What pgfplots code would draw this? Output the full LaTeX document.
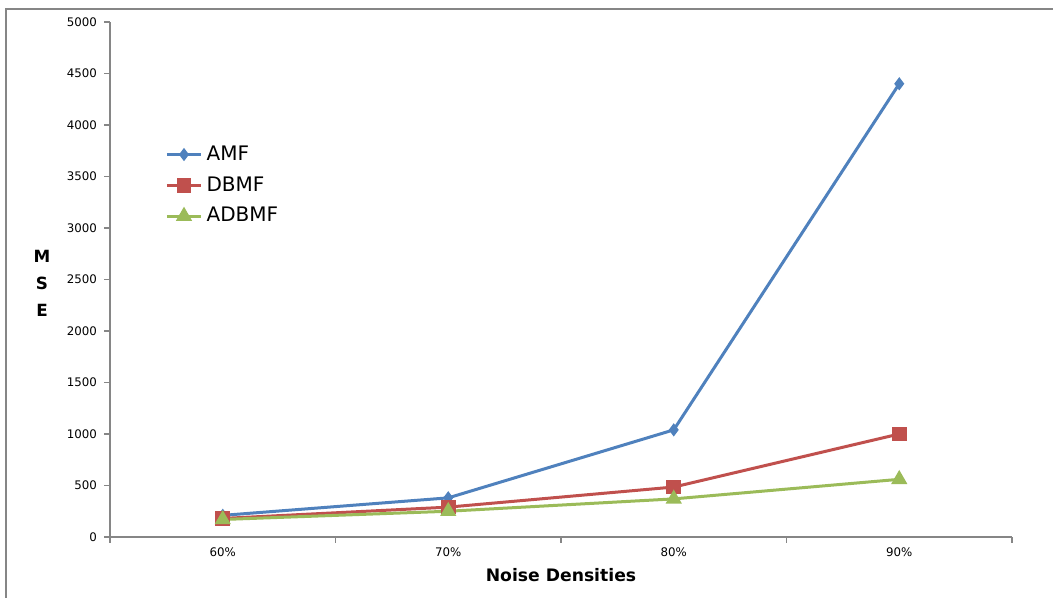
\documentclass[border=0pt]{standalone}
\usepackage{fontspec}
\setmainfont{DejaVu Sans}
\usepackage{pgfplots}
\pgfplotsset{compat=1.18}
\definecolor{amf}{HTML}{4F81BD}
\definecolor{dbmf}{HTML}{C0504D}
\definecolor{adbmf}{HTML}{9BBB59}
\definecolor{axgray}{HTML}{868686}
\begin{document}
\begin{tikzpicture}[x=0.5pt,y=0.5pt]
\useasboundingbox (0,0) rectangle (1053,598);
% outer chart frame (top and left edges visible)
\draw[axgray, line width=0.6pt] (6,0) -- (6,589) -- (1053,589);
\begin{axis}[
    at={(55pt,30.5pt)}, anchor=south west,
    scale only axis, width=451pt, height=257.5pt,
    xmin=-0.5, xmax=3.5, ymin=0, ymax=5000,
    axis x line=bottom, axis y line=left,
    axis line style={axgray, line width=0.6pt, -},
    xtick={0,1,2,3}, xticklabels={60\%,70\%,80\%,90\%},
    minor xtick={-0.5,0.5,1.5,2.5,3.5},
    ytick={0,500,...,5000},
    tick align=outside,
    major x tick style={draw=none},
    minor tick style={axgray, line width=0.6pt},
    major y tick style={axgray, line width=0.6pt},
    major tick length=3pt, minor tick length=3pt,
    ticklabel style={font=\fontsize{5.9}{6}\selectfont},
    xticklabel style={yshift=1pt},
    /pgf/number format/assume math mode=true,
    /pgf/number format/1000 sep={},
    xlabel={\textbf{Noise Densities}},
    xlabel style={font=\fontsize{8.6}{10}\selectfont, at={(axis description cs:0.5,-0.074)}, anchor=center},
    legend style={draw=none, fill=none, at={(axis description cs:0.061,0.776)}, anchor=north west,
        font=\fontsize{10}{11}\selectfont, row sep=2.6pt, inner xsep=0pt},
    legend cell align=left,
    legend image code/.code={\draw[#1] (0cm,0cm) -- (0.6cm,0cm); \draw[#1, mark repeat=1] plot coordinates {(0.3cm,0cm)};},
    clip=false,
]
\addplot[amf, line width=1.5pt, mark=diamond*, mark size=2.1pt] coordinates {(0,210) (1,380) (2,1040) (3,4400)};
\addlegendentry{AMF}
\addplot[dbmf, line width=1.5pt, mark=square*, mark size=2.9pt] coordinates {(0,180) (1,290) (2,485) (3,1000)};
\addlegendentry{DBMF}
\addplot[adbmf, line width=1.5pt, mark=triangle*, mark size=3.2pt] coordinates {(0,170) (1,250) (2,370) (3,560)};
\addlegendentry{ADBMF}
\end{axis}
\node[font=\bfseries\fontsize{8.4}{13.5}\selectfont, align=center] at (42,315) {M\\S\\E};
\end{tikzpicture}
\end{document}
